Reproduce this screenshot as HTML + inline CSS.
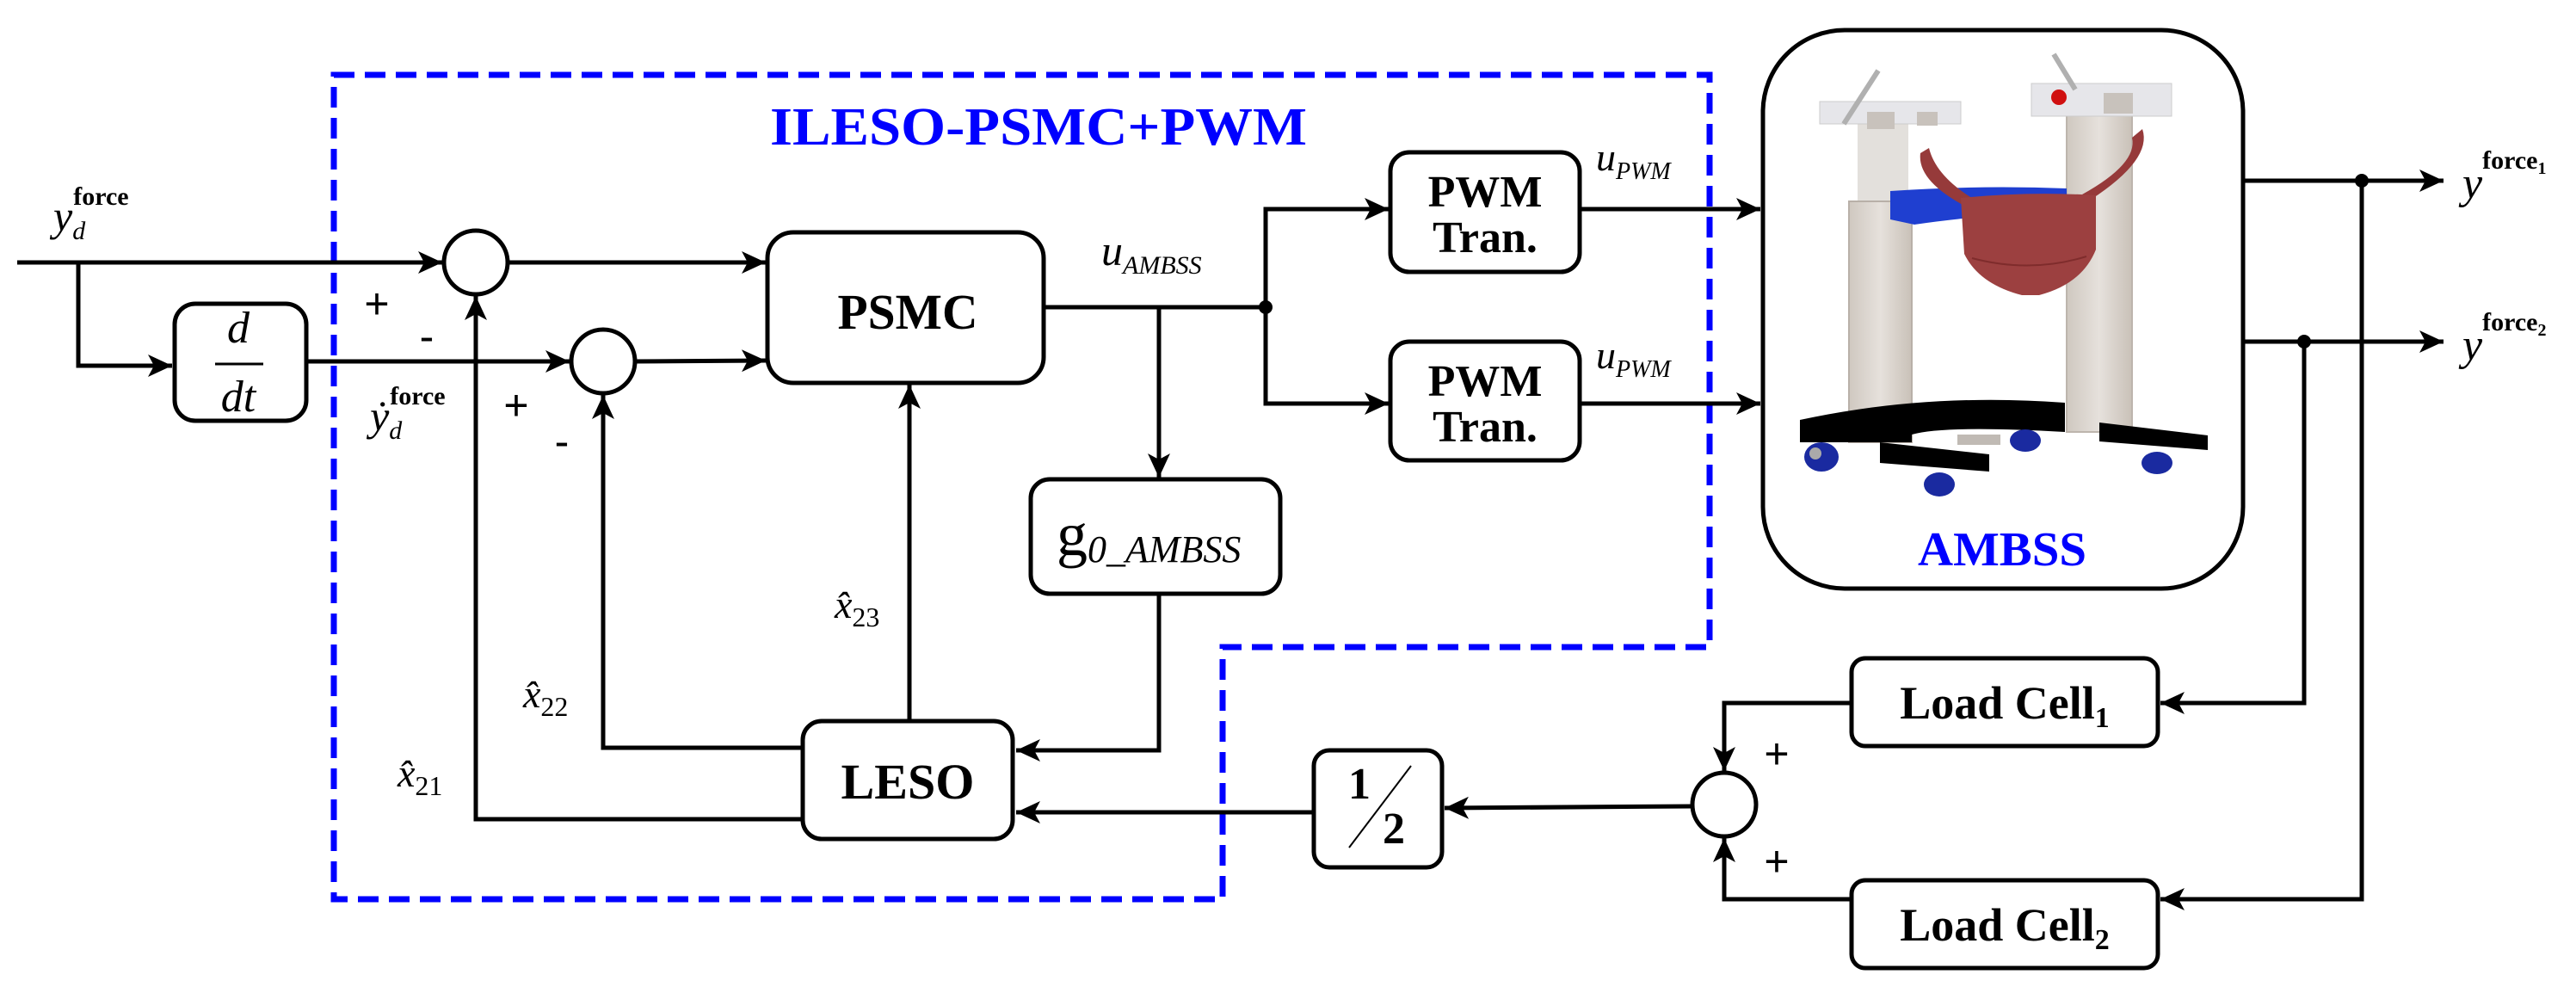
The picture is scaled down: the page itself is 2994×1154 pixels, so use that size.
<!DOCTYPE html>
<html><head><meta charset="utf-8"><style>
html,body{margin:0;padding:0;background:#fff}
svg{display:block}
.b{font-family:"Liberation Serif",serif;font-weight:bold}
.i{font-family:"Liberation Serif",serif;font-style:italic}
</style></head><body>
<svg width="2994" height="1154" viewBox="0 0 2994 1154" xmlns="http://www.w3.org/2000/svg">
<defs>
<marker id="a" markerUnits="userSpaceOnUse" markerWidth="30" markerHeight="26" refX="28" refY="13" orient="auto">
<path d="M0,0 L28,13 L0,26 L7,13 z" fill="#000"/>
</marker>
<linearGradient id="post" x1="0" x2="1" y1="0" y2="0">
<stop offset="0" stop-color="#cfc8c0"/><stop offset="0.5" stop-color="#e6e1dc"/><stop offset="1" stop-color="#c9c1b8"/>
</linearGradient>
</defs>
<g fill="none" stroke="#000" stroke-width="5">
<polygon points="388,87 1987,87 1987,752 1421,752 1421,1045 388,1045" stroke="#0000ff" stroke-width="7" stroke-dasharray="24,12"/>
<line x1="20" y1="305" x2="514" y2="305" marker-end="url(#a)"/>
<polyline points="91,305 91,425 200,425" marker-end="url(#a)"/>
<rect x="203" y="353" width="153" height="136" rx="24"/>
<line x1="356" y1="420" x2="662" y2="420" marker-end="url(#a)"/>
<circle cx="553" cy="305" r="37"/>
<circle cx="701" cy="420" r="37"/>
<line x1="590" y1="305" x2="890" y2="305" marker-end="url(#a)"/>
<line x1="738" y1="420" x2="890" y2="419" marker-end="url(#a)"/>
<rect x="892" y="270" width="321" height="175" rx="30"/>
<line x1="1213" y1="357" x2="1471" y2="357"/>
<line x1="1347" y1="357" x2="1347" y2="555" marker-end="url(#a)"/>
<rect x="1198" y="557" width="290" height="133" rx="22"/>
<polyline points="1347,690 1347,872 1181,872" marker-end="url(#a)"/>
<rect x="933" y="838" width="244" height="137" rx="22"/>
<line x1="1057" y1="838" x2="1057" y2="447" marker-end="url(#a)"/>
<polyline points="933,869 701,869 701,459" marker-end="url(#a)"/>
<polyline points="933,952 553,952 553,344" marker-end="url(#a)"/>
<polyline points="1471,357 1471,243 1614,243" marker-end="url(#a)"/>
<polyline points="1471,357 1471,469 1614,469" marker-end="url(#a)"/>
<rect x="1616" y="177" width="220" height="139" rx="22"/>
<rect x="1616" y="397" width="220" height="138" rx="22"/>
<line x1="1836" y1="243" x2="2046" y2="243" marker-end="url(#a)"/>
<line x1="1836" y1="469" x2="2046" y2="469" marker-end="url(#a)"/>
<rect x="2049" y="35" width="558" height="649" rx="95"/>
<line x1="2607" y1="210" x2="2840" y2="210" marker-end="url(#a)"/>
<line x1="2607" y1="397" x2="2840" y2="397" marker-end="url(#a)"/>
<polyline points="2745,210 2745,1045 2511,1045" marker-end="url(#a)"/>
<polyline points="2678,397 2678,817 2511,817" marker-end="url(#a)"/>
<rect x="2152" y="765" width="356" height="102" rx="16"/>
<rect x="2152" y="1023" width="356" height="102" rx="16"/>
<polyline points="2152,817 2004,817 2004,896" marker-end="url(#a)"/>
<polyline points="2152,1045 2004,1045 2004,974" marker-end="url(#a)"/>
<circle cx="2004" cy="935" r="37"/>
<line x1="1967" y1="937" x2="1679" y2="939" marker-end="url(#a)"/>
<rect x="1527" y="872" width="149" height="136" rx="18"/>
<line x1="1527" y1="944" x2="1181" y2="944" marker-end="url(#a)"/>
<line x1="250" y1="423" x2="306" y2="423" stroke-width="3"/>
<line x1="1568" y1="985" x2="1640" y2="890" stroke-width="2"/>
</g>
<g fill="#000">
<circle cx="1471" cy="357" r="8"/>
<circle cx="2745" cy="210" r="8"/>
<circle cx="2678" cy="397" r="8"/>
</g>
<!-- robot -->
<g>
<rect x="2159" y="140" width="59" height="100" fill="#e3e0dc"/>
<rect x="2149" y="234" width="73" height="280" fill="url(#post)" stroke="#b8b0a8" stroke-width="2"/>
<rect x="2115" y="118" width="164" height="26" fill="#e6e6ea" stroke="#ccc" stroke-width="1"/>
<rect x="2170" y="130" width="32" height="20" fill="#c8c2bc"/>
<rect x="2228" y="130" width="24" height="16" fill="#c8c2bc"/>
<line x1="2143" y1="144" x2="2183" y2="82" stroke="#b0b0b0" stroke-width="6"/>
<rect x="2402" y="125" width="76" height="377" fill="url(#post)" stroke="#bdb5ad" stroke-width="2"/>
<rect x="2361" y="97" width="163" height="38" fill="#e6e6ea" stroke="#ccc" stroke-width="1"/>
<rect x="2445" y="108" width="34" height="24" fill="#c8c2bc"/>
<line x1="2387" y1="63" x2="2412" y2="104" stroke="#b0b0b0" stroke-width="6"/>
<circle cx="2393" cy="113" r="9" fill="#d01010"/>
<path d="M2197,222 Q2300,215 2402,219 L2402,245 Q2300,250 2225,261 L2197,255 z" fill="#1f3fd0"/>
<path d="M2232,178 L2242,172 Q2250,205 2295,232 L2285,240 Q2228,210 2232,178 z" fill="#963a3a"/>
<path d="M2478,160 L2490,150 Q2502,185 2430,232 L2420,226 Q2485,190 2478,160 z" fill="#963a3a"/>
<path d="M2279,230 Q2360,222 2436,227 L2436,290 Q2420,330 2370,343 L2350,343 Q2300,330 2283,295 z" fill="#9c4040"/>
<path d="M2292,300 Q2360,318 2425,298" fill="none" stroke="#7f2c2c" stroke-width="2"/>
<path d="M2092,488 Q2240,456 2400,468 L2400,502 Q2260,494 2222,505 L2222,514 L2092,514 z" fill="#000"/>
<polygon points="2185,514 2312,528 2312,548 2185,538" fill="#000"/>
<polygon points="2440,491 2566,506 2566,523 2440,513" fill="#000"/>
<rect x="2275" y="505" width="50" height="12" fill="#c0bab4"/>
<ellipse cx="2117" cy="531" rx="20" ry="17" fill="#1a2aa0"/>
<circle cx="2110" cy="527" r="7" fill="#aaa"/>
<ellipse cx="2254" cy="563" rx="18" ry="14" fill="#1a2aa0"/>
<ellipse cx="2354" cy="512" rx="18" ry="13" fill="#1a2aa0"/>
<ellipse cx="2507" cy="538" rx="18" ry="13" fill="#1a2aa0"/>
</g>
<text x="895" y="168" class="b" font-size="62" fill="#0000ff" textLength="624" lengthAdjust="spacingAndGlyphs">ILESO-PSMC+PWM</text>
<text x="2327" y="657" class="b" font-size="56" fill="#0000ff" text-anchor="middle" textLength="196" lengthAdjust="spacingAndGlyphs">AMBSS</text>
<text x="1055" y="382" class="b" font-size="58" text-anchor="middle" textLength="163" lengthAdjust="spacingAndGlyphs">PSMC</text>
<text x="1055" y="928" class="b" font-size="58" text-anchor="middle" textLength="155" lengthAdjust="spacingAndGlyphs">LESO</text>
<text x="1726" y="240" class="b" font-size="52" text-anchor="middle">PWM</text>
<text x="1726" y="293" class="b" font-size="52" text-anchor="middle">Tran.</text>
<text x="1726" y="460" class="b" font-size="52" text-anchor="middle">PWM</text>
<text x="1726" y="513" class="b" font-size="52" text-anchor="middle">Tran.</text>
<text x="2330" y="835" class="b" font-size="54" text-anchor="middle">Load Cell<tspan font-size="34" dy="10">1</tspan></text>
<text x="2330" y="1093" class="b" font-size="54" text-anchor="middle">Load Cell<tspan font-size="34" dy="10">2</tspan></text>
<text x="1228" y="645" font-family="Liberation Serif,serif" font-size="72">g<tspan class="i" font-size="44" dy="8">0_AMBSS</tspan></text>
<text x="277" y="398" class="i" font-size="52" text-anchor="middle">d</text>
<text x="277" y="478" class="i" font-size="52" text-anchor="middle">dt</text>
<text x="1580" y="928" class="b" font-size="52" text-anchor="middle">1</text>
<text x="1620" y="980" class="b" font-size="52" text-anchor="middle">2</text>
<text x="62" y="268" class="i" font-size="50">y<tspan font-size="30" dy="10">d</tspan><tspan class="b" font-style="normal" font-size="30" dx="-14" dy="-40">force</tspan></text>
<text x="430" y="500" class="i" font-size="50">ẏ<tspan font-size="30" dy="10">d</tspan><tspan class="b" font-style="normal" font-size="30" dx="-14" dy="-40">force</tspan></text>
<text x="1280" y="308" class="i" font-size="50">u<tspan font-size="30" dy="10">AMBSS</tspan></text>
<text x="1855" y="198" class="i" font-size="46">u<tspan font-size="28" dy="10">PWM</tspan></text>
<text x="1855" y="428" class="i" font-size="46">u<tspan font-size="28" dy="10">PWM</tspan></text>
<text x="2862" y="230" class="i" font-size="52">y<tspan class="b" font-style="normal" font-size="30" dy="-34">force<tspan font-size="20" dy="6">1</tspan></tspan></text>
<text x="2862" y="418" class="i" font-size="52">y<tspan class="b" font-style="normal" font-size="30" dy="-34">force<tspan font-size="20" dy="6">2</tspan></tspan></text>
<text x="970" y="718" class="i" font-size="46">x̂<tspan font-style="normal" font-size="32" dy="10">23</tspan></text>
<text x="608" y="822" class="i" font-size="46">x̂<tspan font-style="normal" font-size="32" dy="10">22</tspan></text>
<text x="462" y="914" class="i" font-size="46">x̂<tspan font-style="normal" font-size="32" dy="10">21</tspan></text>
<g font-family="Liberation Sans,sans-serif" font-size="50">
<text x="438" y="370" text-anchor="middle">+</text>
<text x="496" y="408" text-anchor="middle">-</text>
<text x="600" y="488" text-anchor="middle">+</text>
<text x="653" y="530" text-anchor="middle">-</text>
<text x="2065" y="893" text-anchor="middle">+</text>
<text x="2065" y="1018" text-anchor="middle">+</text>
</g>
</svg>
</body></html>
